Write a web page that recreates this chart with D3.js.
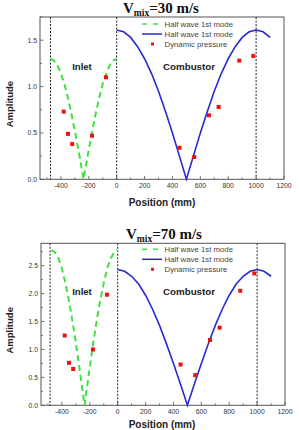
<!DOCTYPE html>
<html>
  <head>
    <meta charset="utf-8">
    <script src="https://d3js.org/d3.v7.min.js"></script>
    <style>
      body { margin: 0; background: white; }
      svg { display: block; }
      .tick-lab { font-family: Arial, "Liberation Sans", sans-serif; font-size: 6.8px; fill: #333; }
      .ax-title { font-family: Arial, "Liberation Sans", sans-serif; font-weight: bold; fill: #222; }
      .leg { font-family: Arial, "Liberation Sans", sans-serif; font-size: 7.8px; fill: #444; }
      .title { font-family: "Liberation Serif", "Times New Roman", serif; font-weight: bold; fill: #111; }
    </style>
  </head>
  <body>
    <div id="chart"></div>
    <script>
      // data
      const xTicks = [-400, -200, 0, 200, 400, 600, 800, 1000, 1200]

      // inlet mode shape (green), positions in mm
      const inletX = [-475, -450, -425, -400, -375, -350, -325, -300, -275, -250, -237.5,
                      -225, -200, -175, -150, -125, -100, -75, -50, -25, 0]
      const inlet30 = [1.30, 1.28, 1.23, 1.14, 1.03, 0.88, 0.71, 0.52, 0.32, 0.11, 0,
                       0.11, 0.32, 0.52, 0.71, 0.88, 1.03, 1.14, 1.23, 1.28, 1.30]
      const inlet70 = [2.78, 2.74, 2.63, 2.45, 2.19, 1.88, 1.52, 1.12, 0.68, 0.23, 0,
                       0.23, 0.68, 1.12, 1.52, 1.88, 2.19, 2.45, 2.63, 2.74, 2.78]

      // combustor mode shape (blue)
      const combX = [0, 50, 100, 150, 200, 250, 300, 350, 400, 450, 500, 550, 600,
                     650, 700, 750, 800, 850, 900, 950, 1000, 1050, 1100]
      const comb30 = [1.61, 1.59, 1.53, 1.43, 1.30, 1.14, 0.95, 0.73, 0.50, 0.25, 0,
                      0.25, 0.50, 0.73, 0.95, 1.14, 1.30, 1.43, 1.53, 1.59, 1.61, 1.59, 1.53]
      const comb70 = [2.43, 2.40, 2.31, 2.17, 1.97, 1.72, 1.43, 1.10, 0.75, 0.38, 0,
                      0.38, 0.75, 1.10, 1.43, 1.72, 1.97, 2.17, 2.31, 2.40, 2.43, 2.40, 2.31]

      // measured dynamic pressure (red squares)
      const probeX = [-380, -349, -319, -177, -77, 451, 556, 662, 731, 879, 980]
      const press30 = [0.73, 0.49, 0.38, 0.47, 1.10, 0.34, 0.24, 0.69, 0.78, 1.28, 1.33]
      const press70 = [1.25, 0.76, 0.65, 1.00, 1.98, 0.73, 0.54, 1.17, 1.39, 2.05, 2.36]

      const legendLabels = ['Half wave 1st mode', 'Half wave 1st mode', 'Dynamic pressure']

      const W = 299, H = 430
      const svg = d3.select('#chart').append('svg')
        .attr('width', W).attr('height', H)

      const GREEN = '#3fe03f', BLUE = '#2a2ad0', RED = '#ee1111', FRAME = '#555'

      function drawPanel(o) {
        const g = svg.append('g')
        const x = d3.scaleLinear().domain([-550, 1200]).range([o.left, o.right])
        const y = d3.scaleLinear().domain([0, o.ymax]).range([o.bottom, o.top])

        // title V_mix=.. m/s
        const t = g.append('text').attr('class', 'title')
          .attr('x', o.titleX).attr('y', o.titleY).attr('font-size', 15)
        t.append('tspan').text('V')
        t.append('tspan').attr('font-size', 9.5).attr('dy', 3).text('mix')
        t.append('tspan').attr('dy', -3).text(o.title)

        // minor + major ticks, pointing inward
        const xMinor = d3.range(-500, 1201, 100)
        g.selectAll(null).data(xMinor).join('line')
          .attr('x1', d => x(d)).attr('x2', d => x(d))
          .attr('y1', o.bottom).attr('y2', d => o.bottom - (xTicks.includes(d) ? 3.5 : 2))
          .attr('stroke', FRAME).attr('stroke-width', 0.8)
        g.selectAll(null).data(xTicks).join('text').attr('class', 'tick-lab')
          .attr('x', d => x(d)).attr('y', o.bottom + 9).attr('text-anchor', 'middle')
          .text(d => d)

        const yMinor = d3.range(0, o.ymax + 0.001, 0.25)
        g.selectAll(null).data(yMinor).join('line')
          .attr('x1', o.left).attr('x2', d => o.left + (o.yTicks.includes(d) ? 3.5 : 2))
          .attr('y1', d => y(d)).attr('y2', d => y(d))
          .attr('stroke', FRAME).attr('stroke-width', 0.8)
        g.selectAll(null).data(o.yTicks).join('text').attr('class', 'tick-lab')
          .attr('x', o.left - 3).attr('y', d => y(d) + 2.5).attr('text-anchor', 'end')
          .text(d => d3.format('.1f')(d))

        // frame
        g.append('rect').attr('x', o.left).attr('y', o.top)
          .attr('width', o.right - o.left).attr('height', o.bottom - o.top)
          .attr('fill', 'none').attr('stroke', FRAME).attr('stroke-width', 1)

        // section boundaries
        g.selectAll(null).data(o.walls).join('line')
          .attr('x1', d => x(d)).attr('x2', d => x(d))
          .attr('y1', o.top).attr('y2', o.bottom)
          .attr('stroke', '#222').attr('stroke-width', 1).attr('stroke-dasharray', '2,1.5')

        const line = d3.line().x(d => x(d[0])).y(d => y(d[1]))
        g.append('path').datum(d3.zip(inletX, o.inlet)).attr('d', line)
          .attr('fill', 'none').attr('stroke', GREEN).attr('stroke-width', 2)
          .attr('stroke-dasharray', '6,4')
        g.append('path').datum(d3.zip(combX, o.comb)).attr('d', line)
          .attr('fill', 'none').attr('stroke', BLUE).attr('stroke-width', 1.6)

        g.selectAll(null).data(d3.zip(probeX, o.press)).join('rect')
          .attr('x', d => x(d[0]) - 2).attr('y', d => y(d[1]) - 2)
          .attr('width', 4).attr('height', 4).attr('fill', RED)

        // region labels
        g.append('text').attr('class', 'ax-title').attr('font-size', 9.5)
          .attr('x', 82).attr('y', o.labelY).attr('text-anchor', 'middle').text('Inlet')
        g.append('text').attr('class', 'ax-title').attr('font-size', 9.8)
          .attr('x', 189).attr('y', o.labelY).attr('text-anchor', 'middle').text('Combustor')

        // legend
        const lg = g.append('g')
        legendLabels.forEach((lab, i) => {
          const ly = o.legY + i * 10
          if (i === 0) lg.append('line').attr('x1', 142).attr('x2', 162).attr('y1', ly).attr('y2', ly)
            .attr('stroke', GREEN).attr('stroke-width', 1.5).attr('stroke-dasharray', '5,6')
          if (i === 1) lg.append('line').attr('x1', 142).attr('x2', 162).attr('y1', ly).attr('y2', ly)
            .attr('stroke', BLUE).attr('stroke-width', 1.5)
          if (i === 2) lg.append('rect').attr('x', 151).attr('y', ly - 1.5)
            .attr('width', 3).attr('height', 3).attr('fill', RED)
          lg.append('text').attr('class', 'leg').attr('x', 164.5).attr('y', ly + 2.6).text(lab)
        })

        // axis titles
        g.append('text').attr('class', 'ax-title').attr('font-size', 10)
          .attr('x', 162).attr('y', o.xTitleY).attr('text-anchor', 'middle').text('Position (mm)')
        g.append('text').attr('class', 'ax-title').attr('font-size', 9.5)
          .attr('transform', `translate(13,${(o.top + o.bottom) / 2 + 6}) rotate(-90)`)
          .attr('text-anchor', 'middle').text('Amplitude')
      }

      drawPanel({
        left: 40, right: 284, top: 17, bottom: 179.3, ymax: 1.75,
        yTicks: [0, 0.5, 1.0, 1.5], walls: [-475, 0, 1000],
        inlet: inlet30, comb: comb30, press: press30,
        title: '=30 m/s', titleX: 123, titleY: 12.5, labelY: 69.5, legY: 24, xTitleY: 205.5
      })
      drawPanel({
        left: 41, right: 285, top: 243.3, bottom: 405.3, ymax: 2.9,
        yTicks: [0, 0.5, 1.0, 1.5, 2.0, 2.5], walls: [-485, 0, 1000],
        inlet: inlet70, comb: comb70, press: press70,
        title: '=70 m/s', titleX: 126, titleY: 238.5, labelY: 295, legY: 249.3, xTitleY: 427.5
      })
    </script>
  </body>
</html>
